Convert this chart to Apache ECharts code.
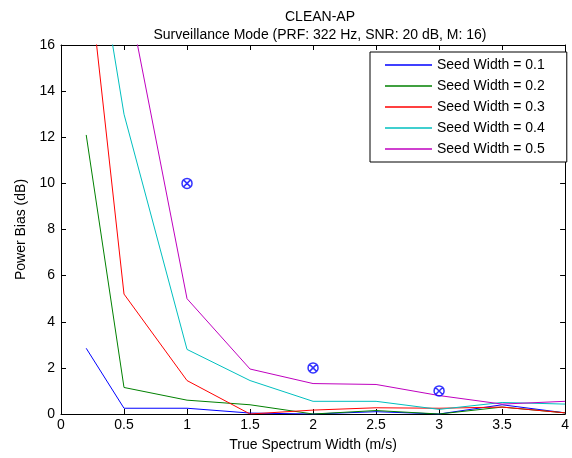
<!DOCTYPE html>
<html>
<head>
<meta charset="utf-8">
<script src="https://cdn.jsdelivr.net/npm/echarts@6/dist/echarts.min.js"></script>
<style>
  html, body { margin: 0; padding: 0; background: #fff; }
  #chart { width: 572px; height: 458px; }
</style>
</head>
<body>
<div id="chart"></div>
<script>
// true spectrum width (m/s)
const widths = [0.2, 0.5, 1, 1.5, 2, 2.5, 3, 3.5, 4];

// power bias (dB) per seed width
const seed01 = [2.85, 0.25, 0.25, 0.04, 0.0, 0.1, 0.0, 0.4, 0.05];
const seed02 = [12.1, 1.15, 0.6, 0.4, 0.0, 0.15, 0.0, 0.3, 0.05];
const seed03 = [20.1, 5.2, 1.45, 0.0, 0.17, 0.27, 0.25, 0.3, 0.05];
const seed04 = [23.0, 13.0, 2.8, 1.45, 0.55, 0.55, 0.2, 0.5, 0.43];
const seed05 = [30.0, 19.0, 5.0, 1.95, 1.32, 1.28, 0.8, 0.43, 0.55];

// reference markers
const markerX = [1, 2, 3];
const markerY = [10, 2, 1];

const seriesNames = ['Seed Width = 0.1', 'Seed Width = 0.2', 'Seed Width = 0.3', 'Seed Width = 0.4', 'Seed Width = 0.5'];
const seriesValues = [seed01, seed02, seed03, seed04, seed05];
const colors = ['#0000ff', '#008000', '#ff0000', '#00bfbf', '#bf00bf'];

const font = 'Liberation Sans, Arial, sans-serif';
const chart = echarts.init(document.getElementById('chart'));

const lineSeries = seriesNames.map((name, i) => ({
  name: name,
  type: 'line',
  data: widths.map((w, j) => [w, seriesValues[i][j]]),
  symbol: 'none',
  lineStyle: { color: colors[i], width: 1 },
  itemStyle: { color: colors[i] },
  clip: true,
  animation: false,
  z: 3 + i
}));

const boxAxis = () => ({
  axisLine: { show: true, onZero: false, lineStyle: { color: '#000', width: 1 } },
  axisTick: { show: true, inside: true, length: 5, lineStyle: { color: '#000' } },
  splitLine: { show: false }
});

chart.setOption({
  backgroundColor: '#fff',
  animation: false,
  title: {
    text: 'CLEAN-AP\nSurveillance Mode (PRF: 322 Hz, SNR: 20 dB, M: 16)',
    left: 315,
    textAlign: 'center',
    top: 3,
    textStyle: { fontFamily: font, fontSize: 14, fontWeight: 'normal', color: '#000', lineHeight: 18 }
  },
  grid: { left: 61, right: 2, top: 45, bottom: 44 },
  legend: {
    orient: 'vertical',
    left: 370,
    top: 52,
    data: seriesNames,
    icon: 'rect',
    itemWidth: 47,
    itemHeight: 1.5,
    itemGap: 7,
    padding: [6, 22, 6, 15],
    borderColor: '#000',
    borderWidth: 1,
    backgroundColor: '#fff',
    textStyle: { fontFamily: font, fontSize: 14, color: '#000', lineHeight: 14 }
  },
  xAxis: [
    Object.assign(boxAxis(), {
      type: 'value', min: 0, max: 4, interval: 0.5,
      name: 'True Spectrum Width (m/s)',
      nameLocation: 'middle',
      nameGap: 24,
      nameTextStyle: { fontFamily: font, fontSize: 14, color: '#000' },
      axisLabel: { fontFamily: font, fontSize: 14, color: '#000', margin: 4 }
    }),
    Object.assign(boxAxis(), {
      type: 'value', min: 0, max: 4, interval: 0.5, position: 'top',
      axisLabel: { show: false }
    })
  ],
  yAxis: [
    Object.assign(boxAxis(), {
      type: 'value', min: 0, max: 16, interval: 2,
      name: 'Power Bias (dB)',
      nameLocation: 'middle',
      nameGap: 32,
      nameTextStyle: { fontFamily: font, fontSize: 14, color: '#000' },
      axisLabel: { fontFamily: font, fontSize: 14, color: '#000', margin: 6 }
    }),
    Object.assign(boxAxis(), {
      type: 'value', min: 0, max: 16, interval: 2, position: 'right',
      axisLabel: { show: false }
    })
  ],
  series: lineSeries.concat([{
    name: 'markers',
    type: 'scatter',
    data: markerX.map((x, i) => [x, markerY[i]]),
    symbol: 'path://M0,-10 A10,10 0 1,1 0,10 A10,10 0 1,1 0,-10 Z M-7,-7 L7,7 M7,-7 L-7,7',
    symbolSize: 10,
    itemStyle: { color: 'rgba(0,0,0,0)', borderColor: '#0000ff', borderWidth: 1.5 },
    z: 10
  }])
});
</script>
</body>
</html>
